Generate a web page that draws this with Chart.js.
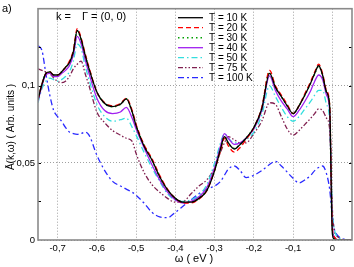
<!DOCTYPE html>
<html>
<head>
<meta charset="utf-8">
<script src="https://cdn.jsdelivr.net/npm/chart.js@4"></script>
<style>
  html, body { margin: 0; padding: 0; background: #fff; }
  canvas { display: block; }
</style>
</head>
<body>
<canvas id="spectra" width="354" height="267"></canvas>
<script>
const omega = [-0.75, -0.74, -0.73, -0.72, -0.71, -0.70, -0.69, -0.68, -0.67, -0.66, -0.65, -0.64, -0.63, -0.62,
  -0.60, -0.58, -0.56, -0.54, -0.525, -0.51, -0.50, -0.48, -0.46, -0.44, -0.42, -0.40, -0.38, -0.36, -0.34, -0.32,
  -0.30, -0.285, -0.275, -0.265, -0.25, -0.235, -0.22, -0.20, -0.18, -0.16, -0.145, -0.13, -0.115, -0.10, -0.085,
  -0.07, -0.055, -0.045, -0.035, -0.025, -0.015, -0.007, 0, 0.005, 0.01, 0.02, 0.03, 0.05];

const t10 = [0.091, 0.101, 0.108, 0.109, 0.107, 0.107, 0.109, 0.112, 0.115, 0.122, 0.136, 0.130, 0.120, 0.111,
  0.096, 0.0885, 0.0865, 0.088, 0.0915, 0.083, 0.074, 0.061, 0.052, 0.041, 0.0325, 0.027, 0.0245, 0.0245, 0.027, 0.032,
  0.045, 0.059, 0.067, 0.063, 0.059, 0.062, 0.066, 0.073, 0.085, 0.108, 0.099, 0.093, 0.087, 0.082, 0.087,
  0.094, 0.102, 0.108, 0.113, 0.107, 0.096, 0.087, 0.004, 0.0005, 0, 0, 0, 0];
const t20 = [0.091, 0.101, 0.108, 0.109, 0.107, 0.107, 0.109, 0.112, 0.116, 0.123, 0.137, 0.131, 0.121, 0.112,
  0.096, 0.089, 0.087, 0.0885, 0.092, 0.084, 0.075, 0.062, 0.053, 0.042, 0.033, 0.027, 0.024, 0.024, 0.0265, 0.032,
  0.045, 0.058, 0.066, 0.061, 0.057, 0.060, 0.065, 0.073, 0.086, 0.110, 0.100, 0.094, 0.088, 0.082, 0.087,
  0.095, 0.103, 0.109, 0.114, 0.108, 0.097, 0.088, 0.008, 0.002, 0.0005, 0, 0, 0];
const t30 = [0.091, 0.101, 0.108, 0.109, 0.107, 0.107, 0.109, 0.112, 0.115, 0.122, 0.1355, 0.130, 0.120, 0.111,
  0.096, 0.0885, 0.0865, 0.088, 0.0915, 0.083, 0.074, 0.0615, 0.052, 0.041, 0.0325, 0.027, 0.0245, 0.0245, 0.027, 0.0325,
  0.0455, 0.059, 0.067, 0.0625, 0.0595, 0.062, 0.066, 0.073, 0.085, 0.109, 0.099, 0.093, 0.087, 0.082, 0.087,
  0.094, 0.102, 0.108, 0.1125, 0.107, 0.096, 0.087, 0.006, 0.001, 0, 0, 0, 0];
const t40 = [0.090, 0.100, 0.107, 0.108, 0.106, 0.106, 0.108, 0.110, 0.113, 0.120, 0.132, 0.127, 0.117, 0.108,
  0.092, 0.084, 0.082, 0.083, 0.086, 0.079, 0.072, 0.060, 0.049, 0.039, 0.031, 0.026, 0.024, 0.025, 0.028, 0.034,
  0.047, 0.061, 0.069, 0.066, 0.062, 0.063, 0.066, 0.072, 0.084, 0.1065, 0.097, 0.090, 0.085, 0.080, 0.084,
  0.090, 0.097, 0.103, 0.107, 0.104, 0.094, 0.084, 0.008, 0.002, 0.0005, 0, 0, 0];
const t50 = [0.089, 0.098, 0.103, 0.105, 0.104, 0.103, 0.104, 0.106, 0.109, 0.116, 0.127, 0.124, 0.113, 0.104,
  0.088, 0.080, 0.077, 0.078, 0.079, 0.073, 0.068, 0.057, 0.047, 0.038, 0.030, 0.026, 0.025, 0.026, 0.029, 0.036,
  0.050, 0.063, 0.069, 0.066, 0.063, 0.063, 0.065, 0.070, 0.081, 0.100, 0.093, 0.086, 0.080, 0.077, 0.080,
  0.085, 0.090, 0.094, 0.097, 0.097, 0.088, 0.078, 0.018, 0.007, 0.003, 0.001, 0, 0];
const t75 = [0.111, 0.110, 0.109, 0.108, 0.105, 0.103, 0.102, 0.103, 0.106, 0.111, 0.114, 0.116, 0.108, 0.100,
  0.083, 0.076, 0.071, 0.068, 0.066, 0.064, 0.056, 0.044, 0.036, 0.031, 0.027, 0.0245, 0.025, 0.030, 0.035, 0.039,
  0.047, 0.057, 0.063, 0.067, 0.065, 0.063, 0.063, 0.069, 0.077, 0.089, 0.088, 0.080, 0.072, 0.068, 0.071,
  0.075, 0.079, 0.082, 0.085, 0.084, 0.079, 0.072, 0.020, 0.006, 0.003, 0.001, 0, 0];
const t100 = [0.126, 0.123, 0.108, 0.094, 0.084, 0.080, 0.077, 0.073, 0.070, 0.069, 0.0685, 0.069, 0.070, 0.068,
  0.055, 0.045, 0.038, 0.035, 0.033, 0.031, 0.029, 0.024, 0.018, 0.015, 0.0145, 0.018, 0.022, 0.026, 0.030, 0.033,
  0.035, 0.038, 0.042, 0.046, 0.048, 0.045, 0.0405, 0.042, 0.045, 0.049, 0.051, 0.048, 0.044, 0.040, 0.037,
  0.039, 0.042, 0.045, 0.047, 0.048, 0.043, 0.033, 0.015, 0.007, 0.004, 0.0015, 0.0005, 0];

const seriesLabels = ['T = 10 K', 'T = 20 K', 'T = 30 K', 'T = 40 K', 'T = 50 K', 'T = 75 K', 'T = 100 K'];
const xTicks = [-0.7, -0.6, -0.5, -0.4, -0.3, -0.2, -0.1, 0];
const yTicks = [0, 0.05, 0.1];
const yMinorTicks = [0.025, 0.075, 0.125];

const FONT = '"Liberation Sans", Arial, sans-serif';

const styles = [
  { color: '#000000', dash: [] , width: 1.3 },
  { color: '#ff0000', dash: [5, 3], width: 1.3 },
  { color: '#00a000', dash: [1.5, 3], width: 1.6 },
  { color: '#a020f0', dash: [], width: 1.3 },
  { color: '#33dede', dash: [6, 3, 1.5, 3], width: 1.3 },
  { color: '#802050', dash: [5, 2, 1.5, 2, 1.5, 2], width: 1.3 },
  { color: '#2a2aff', dash: [6, 3, 2, 3], width: 1.3 }
];

const allSeries = [t10, t20, t30, t40, t50, t75, t100];

const datasets = allSeries.map((vals, i) => ({
  label: seriesLabels[i],
  data: omega.map((w, j) => ({ x: w, y: vals[j] })),
  borderColor: styles[i].color,
  borderDash: styles[i].dash,
  borderWidth: styles[i].width,
  pointRadius: 0,
  fill: false,
  tension: 0.4,
  cubicInterpolationMode: 'monotone'
}));

const fmt = v => Math.abs(v) < 1e-9 ? '0' : String(Math.round(v * 1000) / 1000).replace('.', ',');

// frame, legend and free text are drawn by hand to sit where the original has them
const decorations = {
  id: 'decorations',
  afterDraw(chart) {
    const { ctx, chartArea: a, scales } = chart;
    ctx.save();

    ctx.strokeStyle = '#000';
    ctx.lineWidth = 1;
    yMinorTicks.concat(yTicks.slice(1)).forEach(v => {
      const y = Math.round(scales.y.getPixelForValue(v)) + 0.5;
      ctx.beginPath();
      ctx.moveTo(a.left, y); ctx.lineTo(a.left + 3, y);
      ctx.moveTo(a.right, y); ctx.lineTo(a.right - 3, y);
      ctx.stroke();
    });

    ctx.strokeStyle = '#8a8a8a';
    ctx.lineWidth = 1.6;
    ctx.strokeRect(a.left, a.top, a.right - a.left, a.bottom - a.top);

    ctx.fillStyle = '#000';
    ctx.textBaseline = 'middle';
    ctx.font = '10px ' + FONT;
    chart.data.datasets.forEach((ds, i) => {
      const y = 17.7 + i * 10;
      ctx.strokeStyle = ds.borderColor;
      ctx.lineWidth = ds.borderWidth;
      ctx.setLineDash(ds.borderDash);
      ctx.beginPath();
      ctx.moveTo(178, y); ctx.lineTo(203, y);
      ctx.stroke();
      ctx.setLineDash([]);
      ctx.textAlign = 'left';
      ctx.fillText(ds.label, 209, y + 0.5);
    });

    ctx.font = '11px ' + FONT;
    ctx.textAlign = 'left';
    ctx.fillText('a)', 2, 9);
    ctx.fillText('k =', 56, 17);
    ctx.fillText('\u0393 = (0, 0)', 82, 17);

    ctx.textAlign = 'center';
    ctx.fillText('\u03c9 ( eV )', 194, 259);

    ctx.font = '10px ' + FONT;
    ctx.translate(11, 127);
    ctx.rotate(-Math.PI / 2);
    ctx.fillText('\u0100(k,\u03c9) ( Arb. units )', 0, 0);

    ctx.restore();
  }
};

new Chart(document.getElementById('spectra').getContext('2d'), {
  type: 'line',
  data: { datasets },
  options: {
    responsive: false,
    animation: false,
    devicePixelRatio: 1,
    layout: { padding: { top: 4, right: 2, left: 0, bottom: 0 } },
    plugins: { legend: { display: false }, tooltip: { enabled: false } },
    scales: {
      x: {
        type: 'linear',
        min: -0.75,
        max: 0.05,
        afterBuildTicks: s => { s.ticks = xTicks.map(v => ({ value: v })); },
        afterFit: s => { s.height = 27; },
        ticks: { callback: fmt, color: '#000', font: { size: 9.5, family: FONT }, padding: 3, maxRotation: 0 },
        grid: { color: '#a0a0a0', lineWidth: 1, drawTicks: false },
        border: { display: false, dash: [1, 2] }
      },
      y: {
        min: 0,
        max: 0.15,
        afterBuildTicks: s => { s.ticks = yTicks.map(v => ({ value: v })); },
        afterFit: s => { s.width = 38; },
        ticks: { callback: fmt, color: '#000', font: { size: 9.5, family: FONT }, padding: 3 },
        grid: { color: '#a0a0a0', lineWidth: 1, drawTicks: false },
        border: { display: false, dash: [1, 2] }
      }
    }
  },
  plugins: [decorations]
});
</script>
</body>
</html>
